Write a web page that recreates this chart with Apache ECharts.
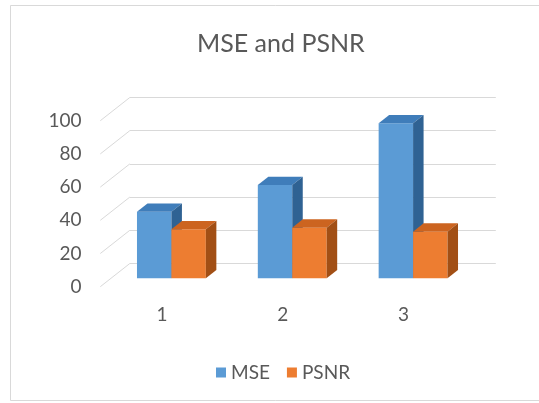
<!DOCTYPE html>
<html>
<head>
<meta charset="utf-8">
<script src="https://cdn.jsdelivr.net/npm/echarts@6/dist/echarts.min.js"></script>
<style>
  html, body { margin: 0; padding: 0; background: #fff; }
  #chart { width: 539px; height: 403px; }
</style>
</head>
<body>
<div id="chart"></div>
<script>
// categories and values
var categories = ['1', '2', '3'];
var mseData = [40.1, 56.2, 93.4];
var psnrData = [29.5, 30.5, 28.1];
var yTicks = [0, 20, 40, 60, 80, 100];

// depth offsets of the 3d look (px)
var BAR_DX = 10.5, BAR_DY = -8.3;
var BACK_DX = 18.8, BACK_DY = -14.8;
var FRONT_DX = -10.7, FRONT_DY = 8.4;

var colors = {
  MSE: { front: '#5B9BD5', top: '#3F7DBA', side: '#2F6293' },
  PSNR: { front: '#ED7D31', top: '#CC6420', side: '#A24F15' }
};

var chart = echarts.init(document.getElementById('chart'), null, { renderer: 'canvas' });

// one bar = front face + top + right side
function barRenderer(name, slot) {
  return function (params, api) {
    var band = api.size([1, 0])[0];
    var w = band * 0.285;
    var c = api.coord([api.value(0), api.value(1)]);
    var base = api.coord([api.value(0), 0]);
    var x0 = c[0] - w + slot * w;
    var x1 = x0 + w;
    var yT = c[1], yB = base[1];
    var col = colors[name];
    return {
      type: 'group',
      children: [
        { type: 'rect', shape: { x: x0, y: yT, width: w, height: yB - yT }, style: { fill: col.front } },
        { type: 'polygon', shape: { points: [[x0, yT], [x0 + BAR_DX, yT + BAR_DY], [x1 + BAR_DX, yT + BAR_DY], [x1, yT]] }, style: { fill: col.top } },
        { type: 'polygon', shape: { points: [[x1, yT], [x1 + BAR_DX, yT + BAR_DY], [x1 + BAR_DX, yB + BAR_DY], [x1, yB]] }, style: { fill: col.side } }
      ]
    };
  };
}

chart.setOption({
  animation: false,
  backgroundColor: '#fff',
  textStyle: { fontFamily: 'Lato' },
  graphic: [{
    // chart frame, open on the right (cut off in the picture)
    type: 'polyline',
    shape: { points: [[600, 5.5], [10.5, 5.5], [10.5, 400.5], [600, 400.5]] },
    style: { fill: 'none', stroke: '#d9d9d9', lineWidth: 1 },
    z: -1
  }],
  title: {
    text: 'MSE and PSNR',
    left: 192,
    top: 26,
    textStyle: { fontFamily: 'Lato', fontSize: 25, fontWeight: 'normal', color: '#595959' }
  },
  legend: {
    data: ['MSE', 'PSNR'],
    left: 211,
    top: 358,
    icon: 'rect',
    itemWidth: 10,
    itemHeight: 10,
    itemGap: 17,
    textStyle: { fontFamily: 'Lato', fontSize: 19, color: '#595959' }
  },
  grid: [
    // plane of the bars
    { left: 111, top: 112.3, width: 362.5, height: 166 },
    // front plane: axis labels
    { left: 101.5, top: 120.7, width: 362.5, height: 166 },
    // back wall: gridlines
    { left: 129.8, top: 97.5, width: 366, height: 166 }
  ],
  xAxis: [
    { gridIndex: 0, type: 'category', data: categories, show: false },
    {
      gridIndex: 1, type: 'category', data: categories,
      axisLine: { show: false }, axisTick: { show: false },
      axisLabel: { margin: 19, fontSize: 19, color: '#595959', fontFamily: 'Lato' }
    },
    { gridIndex: 2, type: 'category', data: categories, show: false }
  ],
  yAxis: [
    { gridIndex: 0, type: 'value', min: 0, max: 100, interval: 20, show: false },
    {
      gridIndex: 1, type: 'value', min: 0, max: 100, interval: 20,
      axisLine: { show: false }, axisTick: { show: false }, splitLine: { show: false },
      axisLabel: { margin: 20, fontSize: 19, color: '#595959', fontFamily: 'Lato' }
    },
    {
      gridIndex: 2, type: 'value', min: 0, max: 100, interval: 20,
      axisLine: { show: false }, axisTick: { show: false }, axisLabel: { show: false },
      splitLine: { lineStyle: { color: '#d9d9d9', width: 1 } }
    }
  ],
  series: [
    {
      // side wall diagonals
      type: 'custom',
      xAxisIndex: 0, yAxisIndex: 0,
      silent: true,
      data: yTicks.map(function (v) { return [0, v]; }),
      renderItem: function (params, api) {
        var p = api.coord([0, api.value(1)]);
        var x0 = params.coordSys.x;
        return {
          type: 'line',
          shape: { x1: x0 + FRONT_DX, y1: p[1] + FRONT_DY, x2: x0 + BACK_DX, y2: p[1] + BACK_DY },
          style: { stroke: '#d9d9d9', lineWidth: 1 }
        };
      },
      z: 1
    },
    {
      name: 'MSE',
      type: 'custom',
      xAxisIndex: 0, yAxisIndex: 0,
      itemStyle: { color: colors.MSE.front },
      data: mseData.map(function (v, i) { return [i, v]; }),
      renderItem: barRenderer('MSE', 0),
      z: 2
    },
    {
      name: 'PSNR',
      type: 'custom',
      xAxisIndex: 0, yAxisIndex: 0,
      itemStyle: { color: colors.PSNR.front },
      data: psnrData.map(function (v, i) { return [i, v]; }),
      renderItem: barRenderer('PSNR', 1),
      z: 3
    }
  ]
});
</script>
</body>
</html>
